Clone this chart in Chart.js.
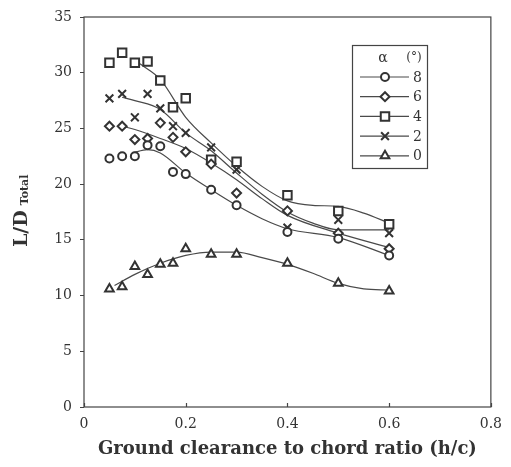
<!DOCTYPE html>
<html>
<head>
<meta charset="utf-8">
<script src="https://cdn.jsdelivr.net/npm/chart.js@4.4.1/dist/chart.umd.min.js"></script>
<style>
  html, body { margin: 0; padding: 0; background: #fff; }
  #wrap { width: 511px; height: 467px; }
</style>
</head>
<body>
<div id="wrap"><canvas id="chart" width="511" height="467"></canvas></div>
<script>
// measured points, h/c on x
const hc = [0.05, 0.075, 0.1, 0.125, 0.15, 0.175, 0.2, 0.25, 0.3, 0.4, 0.5, 0.6];
const ld8 = [22.3, 22.5, 22.5, 23.5, 23.4, 21.1, 20.9, 19.5, 18.1, 15.7, 15.1, 13.6];
const ld6 = [25.2, 25.2, 24.0, 24.1, 25.5, 24.2, 22.9, 21.8, 19.2, 17.6, 15.6, 14.2];
const ld4 = [30.9, 31.8, 30.9, 31.0, 29.3, 26.9, 27.7, 22.2, 22.0, 19.0, 17.6, 16.4];
const ld2 = [27.7, 28.1, 26.0, 28.1, 26.8, 25.2, 24.6, 23.3, 21.3, 16.1, 16.8, 15.6];
const ld0 = [10.6, 10.8, 12.6, 11.9, 12.8, 12.9, 14.2, 13.7, 13.7, 12.9, 11.1, 10.4];

// fitted trend curves
const fit8x = [0.095, 0.125, 0.15, 0.2, 0.25, 0.3, 0.35, 0.4, 0.5, 0.6];
const fit8y = [22.8, 23.1, 22.8, 21.0, 19.5, 18.1, 16.9, 16.0, 15.2, 13.6];
const fit6x = [0.075, 0.1, 0.15, 0.2, 0.25, 0.3, 0.35, 0.4, 0.5, 0.6];
const fit6y = [25.2, 24.9, 24.1, 23.2, 21.9, 20.4, 18.7, 17.2, 15.6, 14.3];
const fit4x = [0.11, 0.15, 0.2, 0.25, 0.3, 0.35, 0.4, 0.45, 0.5, 0.55, 0.6];
const fit4y = [30.8, 29.4, 26.0, 23.7, 21.6, 19.8, 18.5, 18.1, 18.0, 17.4, 16.5];
const fit2x = [0.075, 0.1, 0.15, 0.2, 0.25, 0.3, 0.35, 0.4, 0.45, 0.5, 0.6];
const fit2y = [27.8, 27.5, 26.7, 24.6, 23.0, 21.0, 19.1, 17.5, 16.5, 15.9, 15.9];
const fit0x = [0.06, 0.1, 0.15, 0.2, 0.25, 0.3, 0.35, 0.4, 0.45, 0.5, 0.55, 0.6];
const fit0y = [10.9, 11.9, 12.9, 13.6, 13.9, 13.9, 13.4, 12.8, 12.0, 11.1, 10.6, 10.5];

const alphaLabels = ['8', '6', '4', '2', '0'];
const yTicks = [0, 5, 10, 15, 20, 25, 30, 35];
const xTicks = [0, 0.2, 0.4, 0.6, 0.8];

const ink = '#333';
const serif = "'DejaVu Serif', 'Liberation Serif', serif";

const markers = [
    { label: alphaLabels[0], y: ld8, style: 'circle', r: 4 },
    { label: alphaLabels[1], y: ld6, style: 'rectRot', r: 4.5 },
    { label: alphaLabels[2], y: ld4, style: 'rect', r: 6 },
    { label: alphaLabels[3], y: ld2, style: 'crossRot', r: 5.5 },
    { label: alphaLabels[4], y: ld0, style: 'triangle', r: 5 }
];
const fits = [[fit8x, fit8y], [fit6x, fit6y], [fit4x, fit4y], [fit2x, fit2y], [fit0x, fit0y]];

const pairs = (xs, ys) => xs.map((x, i) => ({ x: x, y: ys[i] }));

const datasets = [];
markers.forEach(m => {
    datasets.push({
        label: m.label,
        data: pairs(hc, m.y),
        showLine: false,
        pointStyle: m.style,
        pointRadius: m.r,
        pointBorderWidth: 2,
        pointBorderColor: ink,
        pointBackgroundColor: '#fff',
        order: 0
    });
});
fits.forEach(f => {
    datasets.push({
        label: '',
        data: pairs(f[0], f[1]),
        showLine: true,
        borderColor: '#4a4a4a',
        borderWidth: 1.2,
        pointRadius: 0,
        cubicInterpolationMode: 'monotone',
        fill: false,
        order: 1
    });
});

function drawMarker(ctx, style, r, x, y) {
    if (Chart.helpers && Chart.helpers.drawPoint) {
        Chart.helpers.drawPoint(ctx, { pointStyle: style, radius: r, rotation: 0, borderWidth: 2 }, x, y);
    }
}

const decor = {
    id: 'decor',
    beforeDatasetsDraw(chart) {
        const { ctx, chartArea: a, scales } = chart;
        ctx.save();
        ctx.strokeStyle = '#444';
        ctx.lineWidth = 1.2;
        ctx.strokeRect(a.left, a.top, a.right - a.left, a.bottom - a.top);
        // small inward ticks on the h/c axis
        xTicks.forEach(v => {
            const px = Math.round(scales.x.getPixelForValue(v)) + 0.5;
            ctx.beginPath();
            ctx.moveTo(px, a.bottom);
            ctx.lineTo(px, a.bottom - 4);
            ctx.stroke();
        });
        ctx.restore();
    },
    afterDraw(chart) {
        const ctx = chart.ctx;
        ctx.save();
        // y title: L/D with subscript Total
        ctx.translate(27, 247);
        ctx.rotate(-Math.PI / 2);
        ctx.fillStyle = '#333';
        ctx.textBaseline = 'alphabetic';
        ctx.textAlign = 'left';
        ctx.font = 'bold 19px ' + serif;
        ctx.fillText('L/D', 0, 0);
        const w = ctx.measureText('L/D').width;
        ctx.font = 'bold 11px ' + serif;
        ctx.fillText('Total', w + 5, 1);
        ctx.restore();

        // legend box
        ctx.save();
        const bx = 352, by = 45, bw = 75, bh = 123;
        ctx.fillStyle = '#fff';
        ctx.fillRect(bx, by, bw, bh);
        ctx.strokeStyle = '#444';
        ctx.lineWidth = 1.2;
        ctx.strokeRect(bx + 0.5, by + 0.5, bw, bh);
        ctx.fillStyle = '#333';
        ctx.textBaseline = 'middle';
        ctx.textAlign = 'center';
        ctx.font = '14px ' + serif;
        ctx.fillText('\u03b1', 383, 58);
        ctx.font = '12px ' + serif;
        ctx.fillText('(\u00b0)', 414, 58);
        markers.forEach((m, i) => {
            const ly = 77 + i * 19.7;
            ctx.strokeStyle = '#4a4a4a';
            ctx.lineWidth = 1.2;
            ctx.beginPath();
            ctx.moveTo(360, ly);
            ctx.lineTo(409, ly);
            ctx.stroke();
            ctx.strokeStyle = ink;
            ctx.fillStyle = '#fff';
            ctx.lineWidth = 2;
            drawMarker(ctx, m.style, m.r, 385, ly);
            ctx.fillStyle = '#333';
            ctx.font = '14px ' + serif;
            ctx.textAlign = 'left';
            ctx.fillText(m.label, 413, ly + 1);
        });
        ctx.restore();
    }
};

new Chart(document.getElementById('chart').getContext('2d'), {
    type: 'scatter',
    data: { datasets: datasets },
    options: {
        responsive: false,
        animation: false,
        events: [],
        layout: { padding: { left: 0, right: 15, top: 17, bottom: 0 } },
        plugins: {
            legend: { display: false },
            tooltip: { enabled: false }
        },
        scales: {
            x: {
                type: 'linear',
                min: 0,
                max: 0.8,
                afterFit: s => { s.height = 60; },
                afterBuildTicks: s => { s.ticks = xTicks.map(v => ({ value: v })); },
                border: { display: false },
                grid: { drawOnChartArea: false, drawTicks: false },
                ticks: {
                    padding: 9,
                    color: '#333',
                    font: { family: serif, size: 14 },
                    callback: v => (v === 0 ? '0' : v.toFixed(1))
                },
                title: {
                    display: true,
                    text: 'Ground clearance to chord ratio (h/c)',
                    color: '#333',
                    font: { family: serif, size: 18, weight: 'bold' },
                    padding: { top: 0, bottom: 7 }
                }
            },
            y: {
                type: 'linear',
                min: 0,
                max: 35,
                afterFit: s => { s.width = 84; },
                afterBuildTicks: s => { s.ticks = yTicks.map(v => ({ value: v })); },
                border: { display: false },
                grid: { drawOnChartArea: false, drawTicks: true, tickLength: 4, color: '#444' },
                ticks: {
                    padding: 8,
                    color: '#333',
                    font: { family: serif, size: 14 }
                }
            }
        }
    },
    plugins: [decor]
});
</script>
</body>
</html>
